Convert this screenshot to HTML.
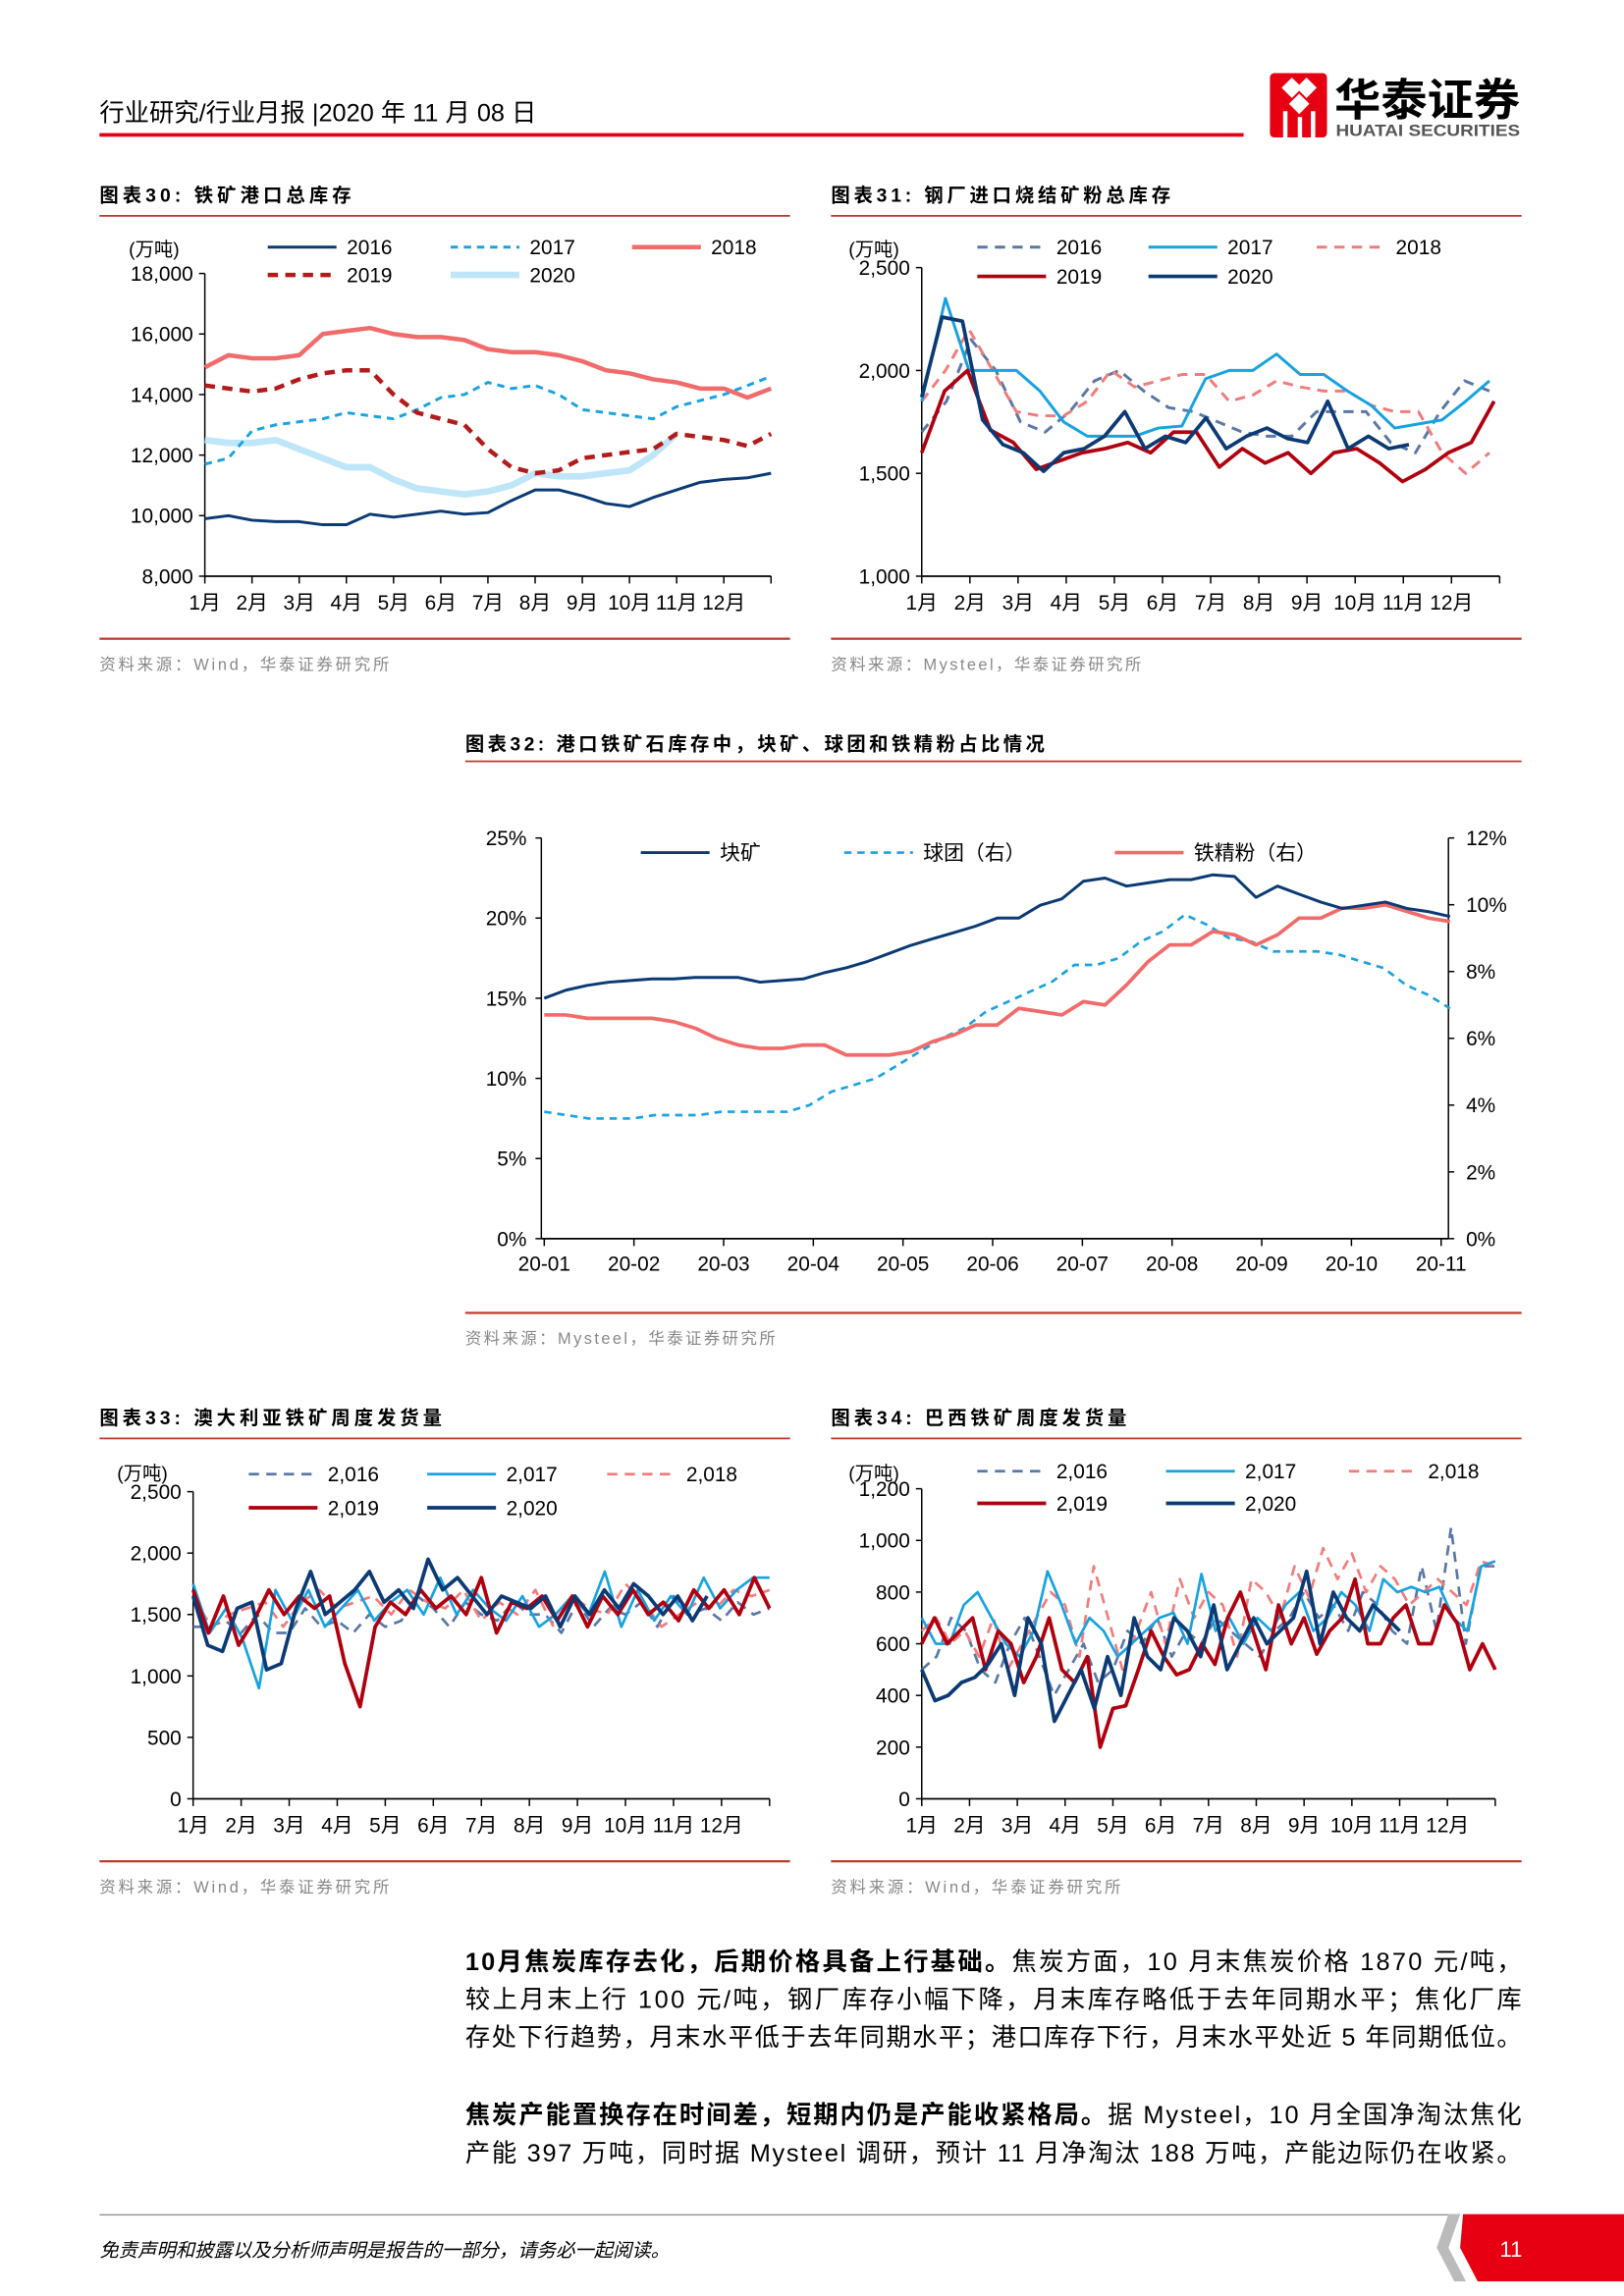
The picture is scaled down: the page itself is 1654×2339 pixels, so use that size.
<!DOCTYPE html>
<html><head><meta charset="utf-8">
<style>
html,body{margin:0;padding:0;background:#fff;}
svg{display:block;}
text{font-family:"Liberation Sans","Noto Sans CJK SC",sans-serif;}
</style></head>
<body>
<svg id="page" xmlns="http://www.w3.org/2000/svg" width="1654" height="2339" viewBox="0 0 1110 1570" preserveAspectRatio="none">
<!-- header -->
<text x="68" y="83" font-size="17" fill="#000">行业研究/行业月报 |2020 年 11 月 08 日</text>
<rect x="68" y="91" width="782" height="2.5" fill="#e60012"/>
<g>
  <rect x="868" y="50" width="39" height="44" rx="3" fill="#e60012"/>
  <polygon points="876,60 883,53 890,60 883,67" fill="#fff"/>
  <polygon points="886,60 893,53 900,60 893,67" fill="#fff"/>
  <polygon points="881,71 888,64 895,71 888,78" fill="#fff"/>
  <rect x="877" y="76" width="3" height="18" fill="#fff"/>
  <rect x="887" y="80" width="3" height="14" fill="#fff"/>
  <rect x="896" y="76" width="3" height="18" fill="#fff"/>
  <text x="912" y="79" font-size="30" font-weight="bold" fill="#000" textLength="127" lengthAdjust="spacingAndGlyphs">华泰证券</text>
  <text x="913" y="93" font-size="11" font-weight="bold" fill="#555" textLength="126" lengthAdjust="spacingAndGlyphs">HUATAI SECURITIES</text>
</g>

<!-- chart frames -->
<text x="68" y="138" font-size="13" font-weight="bold" textLength="172" lengthAdjust="spacing">图表30:  铁矿港口总库存</text>
<rect x="68" y="147" width="472" height="1.2" fill="#c0392b"/>
<rect x="68" y="436" width="472" height="1.5" fill="#c0392b"/>
<text x="68" y="458" font-size="11" fill="#888" textLength="198" lengthAdjust="spacing">资料来源：Wind，华泰证券研究所</text>

<text x="568" y="138" font-size="13" font-weight="bold" textLength="232" lengthAdjust="spacing">图表31:  钢厂进口烧结矿粉总库存</text>
<rect x="568" y="147" width="472" height="1.2" fill="#c0392b"/>
<rect x="568" y="436" width="472" height="1.5" fill="#c0392b"/>
<text x="568" y="458" font-size="11" fill="#888" textLength="212" lengthAdjust="spacing">资料来源：Mysteel，华泰证券研究所</text>

<text x="318" y="513" font-size="13" font-weight="bold" textLength="396" lengthAdjust="spacing">图表32:  港口铁矿石库存中，块矿、球团和铁精粉占比情况</text>
<rect x="318" y="520" width="722" height="1.2" fill="#c0392b"/>
<rect x="318" y="897" width="722" height="1.5" fill="#c0392b"/>
<text x="318" y="919" font-size="11" fill="#888" textLength="212" lengthAdjust="spacing">资料来源：Mysteel，华泰证券研究所</text>

<text x="68" y="974" font-size="13" font-weight="bold" textLength="234" lengthAdjust="spacing">图表33:  澳大利亚铁矿周度发货量</text>
<rect x="68" y="983" width="472" height="1.2" fill="#c0392b"/>
<rect x="68" y="1272" width="472" height="1.5" fill="#c0392b"/>
<text x="68" y="1294" font-size="11" fill="#888" textLength="198" lengthAdjust="spacing">资料来源：Wind，华泰证券研究所</text>

<text x="568" y="974" font-size="13" font-weight="bold" textLength="202" lengthAdjust="spacing">图表34:  巴西铁矿周度发货量</text>
<rect x="568" y="983" width="472" height="1.2" fill="#c0392b"/>
<rect x="568" y="1272" width="472" height="1.5" fill="#c0392b"/>
<text x="568" y="1294" font-size="11" fill="#888" textLength="198" lengthAdjust="spacing">资料来源：Wind，华泰证券研究所</text>

<g id="charts"></g>

<!-- body text -->
<g font-size="17" fill="#000">
<text x="318" y="1347" textLength="722" lengthAdjust="spacing"><tspan font-weight="bold">10月焦炭库存去化，后期价格具备上行基础。</tspan>焦炭方面，10 月末焦炭价格 1870 元/吨，</text>
<text x="318" y="1373" textLength="722" lengthAdjust="spacing">较上月末上行 100 元/吨，钢厂库存小幅下降，月末库存略低于去年同期水平；焦化厂库</text>
<text x="318" y="1399" textLength="722" lengthAdjust="spacing">存处下行趋势，月末水平低于去年同期水平；港口库存下行，月末水平处近 5 年同期低位。</text>
<text x="318" y="1452" textLength="722" lengthAdjust="spacing"><tspan font-weight="bold">焦炭产能置换存在时间差，短期内仍是产能收紧格局。</tspan>据 Mysteel，10 月全国净淘汰焦化</text>
<text x="318" y="1478" textLength="722" lengthAdjust="spacing">产能 397 万吨，同时据 Mysteel 调研，预计 11 月净淘汰 188 万吨，产能边际仍在收紧。</text>
</g>

<!-- footer -->
<rect x="68" y="1514" width="930" height="1" fill="#999"/>
<polygon points="1000,1514 1110,1514 1110,1560 1010,1560 998,1537" fill="#e60012"/>
<polygon points="990,1514 998,1514 990,1537 1002,1560 994,1560 982,1537" fill="#bbb"/>
<text x="1025" y="1543" font-size="15" fill="#fff">11</text>
<text x="68" y="1543" font-size="13" font-style="italic" fill="#000">免责声明和披露以及分析师声明是报告的一部分，请务必一起阅读。</text>
</svg>

<script>
// ===== Chart 30 data =====
const c30Months = ["1月","2月","3月","4月","5月","6月","7月","8月","9月","10月","11月","12月"];
const c30Ticks = [8000,10000,12000,14000,16000,18000];
const c30y2016 = [9900,10000,9850,9800,9800,9700,9700,10050,9950,10050,10150,10050,10100,10500,10850,10850,10650,10400,10300,10600,10850,11100,11200,11250,11400];
const c30y2017 = [11700,11900,12800,13000,13100,13200,13400,13300,13200,13500,13900,14000,14400,14200,14300,14000,13500,13400,13300,13200,13600,13800,14000,14300,14600];
const c30y2018 = [14900,15300,15200,15200,15300,16000,16100,16200,16000,15900,15900,15800,15500,15400,15400,15300,15100,14800,14700,14500,14400,14200,14200,13900,14200];
const c30y2019 = [14300,14200,14100,14200,14500,14700,14800,14800,14000,13400,13200,13000,12200,11600,11400,11500,11900,12000,12100,12200,12700,12600,12500,12300,12700];
const c30y2020 = [12500,12400,12400,12500,12200,11900,11600,11600,11200,10900,10800,10700,10800,11000,11400,11300,11300,11400,11500,12000,12700];
// ===== Chart 31 data =====
const c31Ticks = [1000,1500,2000,2500];
const c31y2016 = [1700,1850,2150,2000,1750,1700,1800,1950,2000,1900,1820,1800,1750,1700,1680,1680,1800,1800,1800,1650,1600,1800,1950,1900];
const c31y2017 = [1850,2350,2000,2000,2000,1900,1750,1680,1680,1680,1720,1730,1960,2000,2000,2080,1980,1980,1900,1830,1720,1740,1760,1850,1950];
const c31y2018 = [1850,2000,2200,2000,1800,1780,1780,1850,2000,1920,1950,1980,1980,1850,1880,1950,1920,1900,1900,1830,1800,1800,1600,1500,1600];
const c31y2019 = [1600,1900,2000,1710,1650,1520,1560,1600,1620,1650,1600,1700,1700,1530,1620,1550,1600,1500,1600,1620,1550,1460,1520,1600,1650,1850];
const c31y2020 = [1870,2260,2240,1760,1640,1600,1510,1600,1620,1680,1800,1620,1680,1650,1770,1620,1680,1720,1670,1650,1850,1620,1680,1620,1640];
// ===== Chart 32 data =====
const c32Dates = ["20-01","20-02","20-03","20-04","20-05","20-06","20-07","20-08","20-09","20-10","20-11"];
const c32LeftTicks = [0,5,10,15,20,25];
const c32RightTicks = [0,2,4,6,8,10,12];
const c32Lump = [15.0,15.5,15.8,16.0,16.1,16.2,16.2,16.3,16.3,16.3,16.0,16.1,16.2,16.6,16.9,17.3,17.8,18.3,18.7,19.1,19.5,20.0,20.0,20.8,21.2,22.3,22.5,22.0,22.2,22.4,22.4,22.7,22.6,21.3,22.0,21.5,21.0,20.6,20.8,21.0,20.6,20.4,20.1];
const c32Pellet = [3.8,3.7,3.6,3.6,3.6,3.7,3.7,3.7,3.8,3.8,3.8,3.8,4.0,4.4,4.6,4.8,5.2,5.6,6.0,6.3,6.8,7.1,7.4,7.7,8.2,8.2,8.4,8.9,9.2,9.7,9.4,9.0,8.9,8.6,8.6,8.6,8.5,8.3,8.1,7.6,7.3,6.9];
const c32Fines = [6.7,6.7,6.6,6.6,6.6,6.6,6.5,6.3,6.0,5.8,5.7,5.7,5.8,5.8,5.5,5.5,5.5,5.6,5.9,6.1,6.4,6.4,6.9,6.8,6.7,7.1,7.0,7.6,8.3,8.8,8.8,9.2,9.1,8.8,9.1,9.6,9.6,9.9,9.9,10.0,9.8,9.6,9.5];
// ===== Chart 33 data =====
const c33Ticks = [0,500,1000,1500,2000,2500];
const c33y2016 = [1400,1400,1450,1350,1500,1350,1350,1550,1400,1450,1350,1500,1400,1450,1650,1550,1400,1600,1500,1450,1600,1500,1500,1350,1600,1400,1550,1500,1600,1400,1650,1500,1550,1450,1600,1500,1550];
const c33y2017 = [1750,1350,1550,1300,900,1700,1450,1700,1400,1550,1700,1450,1600,1700,1500,1800,1500,1700,1550,1450,1650,1400,1500,1650,1500,1850,1400,1700,1450,1650,1500,1800,1550,1700,1800,1800];
const c33y2018 = [1650,1400,1500,1550,1600,1400,1600,1700,1550,1600,1650,1500,1700,1600,1550,1700,1450,1600,1500,1700,1400,1650,1550,1500,1750,1600,1400,1500,1600,1550,1700,1650,1700];
const c33y2019 = [1700,1350,1650,1250,1450,1700,1500,1650,1550,1650,1100,750,1400,1600,1500,1700,1550,1650,1500,1800,1350,1600,1550,1650,1450,1650,1400,1650,1500,1700,1500,1600,1450,1700,1550,1700,1500,1800,1550];
const c33y2020 = [1650,1250,1200,1550,1600,1050,1100,1550,1850,1500,1600,1700,1850,1600,1700,1550,1950,1700,1800,1650,1500,1650,1600,1550,1650,1400,1650,1500,1700,1550,1750,1650,1500,1650,1450,1650];
// ===== Chart 34 data =====
const c34Ticks = [0,200,400,600,800,1000,1200];
const c34y2016 = [500,550,700,650,500,450,600,700,550,400,500,600,450,500,650,600,700,550,650,600,700,650,600,550,650,700,800,700,750,650,800,750,650,600,900,650,1050,600,900,900];
const c34y2017 = [700,600,600,750,800,700,600,550,650,880,750,600,700,650,550,600,650,700,720,600,870,650,700,600,700,650,750,800,650,700,800,750,650,850,800,820,800,820,700,650,900,920];
const c34y2018 = [650,700,600,650,550,700,500,600,700,800,750,550,900,700,500,650,800,600,850,700,800,750,550,850,800,700,900,780,970,850,950,800,900,850,750,800,850,800,750,920,900];
const c34y2019 = [600,700,600,650,700,500,650,600,450,550,700,500,450,550,200,350,360,500,650,550,480,500,600,520,700,800,650,500,750,600,700,560,650,700,850,600,600,700,750,600,600,750,680,500,600,500];
const c34y2020 = [500,380,400,450,470,520,600,400,700,600,300,400,500,350,550,400,700,550,500,700,650,550,750,500,600,700,600,650,700,880,600,800,700,650,750,700,650];

const NS = 'http://www.w3.org/2000/svg';
const root = document.getElementById('charts');
function mk(tag, attrs, parent){
  const e = document.createElementNS(NS, tag);
  for (const k in attrs) e.setAttribute(k, attrs[k]);
  (parent || root).appendChild(e);
  return e;
}
function lin(d0,d1,r0,r1){ return v => r0 + (v-d0)*(r1-r0)/(d1-d0); }

function series(g, vals, m0, m1, xs, ys, st, name){
  const d = vals.map((v,i)=>{
    const m = m0 + (m1-m0)*i/(vals.length-1);
    return (i?'L':'M') + xs(m).toFixed(1) + ',' + ys(v).toFixed(1);
  }).join('');
  const p = mk('path', {d:d, fill:'none', stroke:st.c, 'stroke-width':st.w, 'stroke-dasharray':st.dash||'none', 'stroke-linejoin':'round'}, g);
  
  
}
function legend(g, x, y, st, label, name){
  const lg = mk('g', {}, g);
  
  
  mk('line', {x1:x, y1:y, x2:x+47, y2:y, stroke:st.c, 'stroke-width':st.w, 'stroke-dasharray':st.dash||'none'}, lg);
  const t = mk('text', {x:x+54, y:y+5, 'font-size':14, fill:'#000'}, lg);
  t.textContent = label;
}
function monthAxes(g, x0, x1, yTop, yBot, ys, ticks, fmt, unitX, unitY){
  const ax = mk('g', {}, g);
  
  
  mk('line', {x1:x0, y1:yTop, x2:x0, y2:yBot, stroke:'#000', 'stroke-width':1}, ax);
  mk('line', {x1:x0, y1:yBot, x2:x1, y2:yBot, stroke:'#000', 'stroke-width':1.2}, ax);
  ticks.forEach(v=>{
    mk('line', {x1:x0-4, y1:ys(v), x2:x0, y2:ys(v), stroke:'#000'}, ax);
    const t = mk('text', {x:x0-8, y:ys(v)+5, 'font-size':14, 'text-anchor':'end'}, ax);
    
    
    t.textContent = fmt(v);
  });
  const step = (x1-x0)/12;
  for (let i=0;i<=12;i++) mk('line', {x1:x0+i*step, y1:yBot, x2:x0+i*step, y2:yBot+5, stroke:'#000'}, ax);
  c30Months.forEach((m,i)=>{
    const t = mk('text', {x:x0+i*step, y:yBot+23, 'font-size':14, 'text-anchor':'middle'}, ax);
    
    
    t.textContent = m;
  });
  const u = mk('text', {x:unitX, y:unitY, 'font-size':13}, ax);
  
  
  u.textContent = '(万吨)';
}
const comma = v => v.toLocaleString('en-US');

// ---- Chart 30 ----
(function(){
  const g = mk('g', {});
  
  
  const x0=140, x1=527, ys = lin(8000,18000,394,187), xs = lin(0,12,x0,x1);
  monthAxes(g, x0, x1, 187, 394, ys, c30Ticks, comma, 88, 175);
  const S = {
    a:{c:'#0b3a74',w:2}, b:{c:'#1aa3e0',w:2,dash:'5,4'}, c:{c:'#f26b6b',w:3},
    d:{c:'#b31b1b',w:3,dash:'7,5'}, e:{c:'#bfe6f8',w:4.5}
  };
  series(g, c30y2020, 0, 10, xs, ys, S.e, 'line-2020');
  series(g, c30y2016, 0, 12, xs, ys, S.a, 'line-2016');
  series(g, c30y2017, 0, 12, xs, ys, S.b, 'line-2017');
  series(g, c30y2019, 0, 12, xs, ys, S.d, 'line-2019');
  series(g, c30y2018, 0, 12, xs, ys, S.c, 'line-2018');
  legend(g, 183, 169, S.a, '2016', 'legend-2016');
  legend(g, 308, 169, S.b, '2017', 'legend-2017');
  legend(g, 432, 169, S.c, '2018', 'legend-2018');
  legend(g, 183, 188, S.d, '2019', 'legend-2019');
  legend(g, 308, 188, S.e, '2020', 'legend-2020');
})();

// ---- Chart 31 ----
(function(){
  const g = mk('g', {});
  
  
  const x0=630, x1=1018, ys = lin(1000,2500,394,183), xs = lin(0,12,x0,x1);
  monthAxes(g, x0, x1+7, 183, 394, ys, c31Ticks, comma, 580, 175);
  const S = {
    a:{c:'#5a78a6',w:2,dash:'7,5'}, b:{c:'#17a2e0',w:2}, c:{c:'#f27c7c',w:2,dash:'7,5'},
    d:{c:'#b0000f',w:2.5}, e:{c:'#0b3a74',w:2.5}
  };
  series(g, c31y2016, 0, 12, xs, ys, S.a, 'line-2016');
  series(g, c31y2018, 0, 12, xs, ys, S.c, 'line-2018');
  series(g, c31y2017, 0, 12, xs, ys, S.b, 'line-2017');
  series(g, c31y2019, 0, 12.1, xs, ys, S.d, 'line-2019');
  series(g, c31y2020, 0, 10.3, xs, ys, S.e, 'line-2020');
  legend(g, 668, 169, S.a, '2016', 'legend-2016');
  legend(g, 785, 169, S.b, '2017', 'legend-2017');
  legend(g, 900, 169, S.c, '2018', 'legend-2018');
  legend(g, 668, 189, S.d, '2019', 'legend-2019');
  legend(g, 785, 189, S.e, '2020', 'legend-2020');
})();

// ---- Chart 32 ----
(function(){
  const g = mk('g', {});
  
  
  const x0=372, xe=985, yT=573, yB=847;
  const xs = lin(0,10,x0,xe), yl = lin(0,25,yB,yT), yr = lin(0,12,yB,yT);
  const ax = mk('g', {}, g);
  
  
  mk('line', {x1:x0-2, y1:yT, x2:x0-2, y2:yB, stroke:'#000'}, ax);
  mk('line', {x1:990, y1:yT, x2:990, y2:yB, stroke:'#000'}, ax);
  mk('line', {x1:x0-2, y1:yB, x2:990, y2:yB, stroke:'#000', 'stroke-width':1.2}, ax);
  c32LeftTicks.forEach(v=>{
    mk('line', {x1:x0-6, y1:yl(v), x2:x0-2, y2:yl(v), stroke:'#000'}, ax);
    const t = mk('text', {x:x0-12, y:yl(v)+5, 'font-size':14, 'text-anchor':'end'}, ax);
    
    
    t.textContent = v + '%';
  });
  c32RightTicks.forEach(v=>{
    mk('line', {x1:990, y1:yr(v), x2:994, y2:yr(v), stroke:'#000'}, ax);
    const t = mk('text', {x:1002, y:yr(v)+5, 'font-size':14}, ax);
    
    
    t.textContent = v + '%';
  });
  c32Dates.forEach((d,i)=>{
    mk('line', {x1:xs(i), y1:yB, x2:xs(i), y2:yB+5, stroke:'#000'}, ax);
    const t = mk('text', {x:xs(i), y:yB+22, 'font-size':14, 'text-anchor':'middle'}, ax);
    
    
    t.textContent = d;
  });
  const S = { a:{c:'#0b3a74',w:2}, b:{c:'#1aa3e0',w:1.8,dash:'5,4'}, c:{c:'#f26b6b',w:2.5} };
  series(g, c32Pellet, 0, 10.1, xs, yr, S.b, 'line-pellet');
  series(g, c32Fines, 0, 10.1, xs, yr, S.c, 'line-fines');
  series(g, c32Lump, 0, 10.1, xs, yl, S.a, 'line-lump');
  legend(g, 438, 583, S.a, '块矿', 'legend-lump');
  legend(g, 577, 583, S.b, '球团（右）', 'legend-pellet');
  legend(g, 762, 583, S.c, '铁精粉（右）', 'legend-fines');
})();

// ---- Chart 33 ----
(function(){
  const g = mk('g', {});
  
  
  const x0=132, x1=526, ys = lin(0,2500,1230,1020), xs = lin(0,12,x0,x1);
  monthAxes(g, x0, x1, 1020, 1230, ys, c33Ticks, comma, 80, 1012);
  const S = {
    a:{c:'#5a78a6',w:1.8,dash:'7,5'}, b:{c:'#17a2e0',w:1.8}, c:{c:'#f27c7c',w:1.8,dash:'7,5'},
    d:{c:'#b0000f',w:2.5}, e:{c:'#0b3a74',w:2.5}
  };
  series(g, c33y2016, 0, 12, xs, ys, S.a, 'line-2016');
  series(g, c33y2018, 0, 12, xs, ys, S.c, 'line-2018');
  series(g, c33y2017, 0, 12, xs, ys, S.b, 'line-2017');
  series(g, c33y2019, 0, 12, xs, ys, S.d, 'line-2019');
  series(g, c33y2020, 0, 10.7, xs, ys, S.e, 'line-2020');
  legend(g, 170, 1008, S.a, '2,016', 'legend-2016');
  legend(g, 292, 1008, S.b, '2,017', 'legend-2017');
  legend(g, 415, 1008, S.c, '2,018', 'legend-2018');
  legend(g, 170, 1031, S.d, '2,019', 'legend-2019');
  legend(g, 292, 1031, S.e, '2,020', 'legend-2020');
})();

// ---- Chart 34 ----
(function(){
  const g = mk('g', {});
  
  
  const x0=630, x1=1022, ys = lin(0,1200,1230,1018), xs = lin(0,12,x0,x1);
  monthAxes(g, x0, x1, 1018, 1230, ys, c34Ticks, comma, 580, 1012);
  const S = {
    a:{c:'#5a78a6',w:1.8,dash:'7,5'}, b:{c:'#17a2e0',w:1.8}, c:{c:'#f27c7c',w:1.8,dash:'7,5'},
    d:{c:'#b0000f',w:2.5}, e:{c:'#0b3a74',w:2.5}
  };
  series(g, c34y2016, 0, 12, xs, ys, S.a, 'line-2016');
  series(g, c34y2018, 0, 12, xs, ys, S.c, 'line-2018');
  series(g, c34y2017, 0, 12, xs, ys, S.b, 'line-2017');
  series(g, c34y2019, 0, 12, xs, ys, S.d, 'line-2019');
  series(g, c34y2020, 0, 10, xs, ys, S.e, 'line-2020');
  legend(g, 668, 1006, S.a, '2,016', 'legend-2016');
  legend(g, 797, 1006, S.b, '2,017', 'legend-2017');
  legend(g, 922, 1006, S.c, '2,018', 'legend-2018');
  legend(g, 668, 1028, S.d, '2,019', 'legend-2019');
  legend(g, 797, 1028, S.e, '2,020', 'legend-2020');
})();
</script>
</body></html>
